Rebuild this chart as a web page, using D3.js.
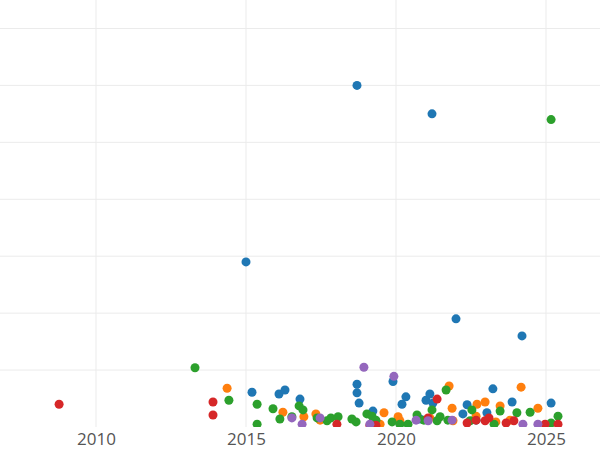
<!DOCTYPE html>
<html><head><meta charset="utf-8">
<script src="https://cdn.jsdelivr.net/npm/d3@7"></script>
<style>body{margin:0;background:#fff}</style>
</head><body><svg id="c" width="600" height="450"></svg>
<script>
// series values: [year, value]
const blue = [[2018.7,6.0],[2021.2,5.5],[2015.0,2.9],[2022.0,1.9],[2024.2,1.6],[2015.2,0.61],[2016.1,0.58],[2016.3,0.65],[2016.8,0.49],[2018.7,0.75],[2018.7,0.6],[2018.77,0.42],[2019.23,0.28],[2019.9,0.8],[2020.2,0.4],[2020.33,0.53],[2021.0,0.47],[2021.13,0.58],[2021.23,0.42],[2022.37,0.39],[2022.23,0.23],[2023.23,0.67],[2023.87,0.44],[2025.17,0.42],[2020.8,0.14],[2022.67,0.12],[2023.03,0.25]];
const orange = [[2014.37,0.68],[2016.23,0.26],[2016.93,0.18],[2017.33,0.23],[2017.47,0.12],[2019.6,0.25],[2020.07,0.18],[2020.13,0.11],[2021.77,0.72],[2021.87,0.33],[2022.7,0.4],[2022.97,0.44],[2023.47,0.37],[2024.17,0.7],[2024.73,0.33],[2022.67,0.19],[2021.9,0.11],[2023.33,0.09],[2023.8,0.12],[2019.47,0.05],[2021.13,0.16]];
const green = [[2013.3,1.04],[2014.43,0.47],[2015.37,0.4],[2015.37,0.05],[2015.9,0.32],[2016.13,0.14],[2016.53,0.18],[2016.77,0.37],[2016.9,0.3],[2017.37,0.16],[2017.7,0.11],[2017.83,0.16],[2018.07,0.18],[2018.53,0.14],[2018.67,0.09],[2019.03,0.23],[2019.2,0.19],[2019.87,0.09],[2020.13,0.05],[2020.4,0.05],[2020.7,0.21],[2020.93,0.12],[2021.2,0.3],[2021.37,0.11],[2021.67,0.65],[2021.73,0.12],[2022.53,0.3],[2023.47,0.28],[2024.03,0.25],[2024.47,0.26],[2025.4,0.19],[2025.17,0.07],[2023.27,0.05],[2022.47,0.11],[2025.17,5.4],[2019.33,0.12],[2021.47,0.18]];
const red = [[2008.77,0.4],[2013.9,0.44],[2013.9,0.21],[2018.03,0.05],[2019.13,0.03],[2019.33,0.03],[2021.37,0.49],[2021.07,0.16],[2022.37,0.07],[2022.67,0.12],[2022.97,0.11],[2023.1,0.16],[2023.67,0.07],[2023.93,0.11],[2025.4,0.05],[2024.97,0.05]];
const purple = [[2018.93,1.05],[2019.93,0.89],[2016.53,0.16],[2016.87,0.05],[2017.47,0.16],[2020.67,0.12],[2021.07,0.11],[2021.87,0.12],[2024.23,0.05],[2024.73,0.05],[2019.13,0.05]];
const series = [[blue,'#1f77b4'],[orange,'#ff7f0e'],[green,'#2ca02c'],[red,'#d62728'],[purple,'#9467bd']];
const xTicks = [2010, 2015, 2020, 2025];
const yGrid = [1, 2, 3, 4, 5, 6, 7];

const svg = d3.select('#c');
const x = d3.scaleLinear().domain([2006.8, 2026.8]).range([0, 600]);
const y = d3.scaleLinear().domain([0, 7.5]).range([427, 0]);

svg.append('defs').append('clipPath').attr('id','clip')
  .append('rect').attr('width',600).attr('height',427);

svg.append('g').selectAll('line').data(yGrid).join('line')
  .attr('x1',0).attr('x2',600).attr('y1',d=>y(d)).attr('y2',d=>y(d))
  .attr('stroke','#ebebeb');
svg.append('g').selectAll('line').data(xTicks).join('line')
  .attr('x1',d=>x(d)).attr('x2',d=>x(d)).attr('y1',0).attr('y2',427)
  .attr('stroke','#ebebeb');

const pts = svg.append('g').attr('clip-path','url(#clip)');
series.forEach(([data, col]) => {
  pts.append('g').selectAll('circle').data(data).join('circle')
    .attr('cx',d=>x(d[0])).attr('cy',d=>y(d[1])).attr('r',4.5).attr('fill',col);
});

const ax = svg.append('g').attr('transform','translate(0,427)')
  .call(d3.axisBottom(x).tickValues(xTicks).tickFormat(d3.format('d')).tickSize(0).tickPadding(6));
ax.select('.domain').remove();
ax.selectAll('text').attr('font-family','Open Sans, sans-serif').attr('font-size',17).attr('fill','#555');
</script></body></html>
